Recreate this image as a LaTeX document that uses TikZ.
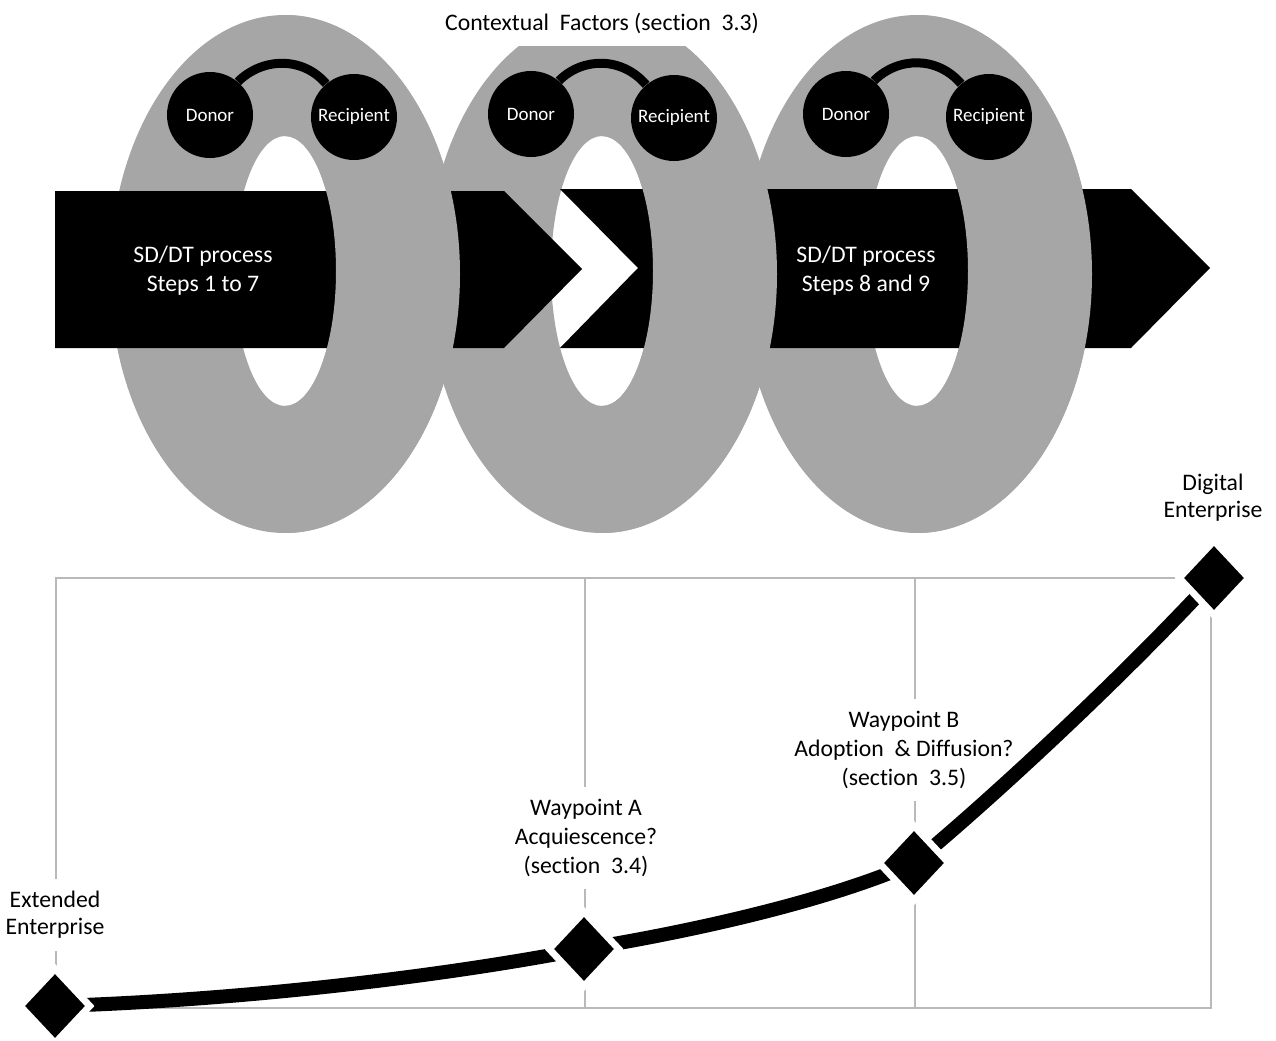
\documentclass[tikz,border=0pt]{standalone}
\usepackage{fontspec}
\setmainfont[Ligatures=NoCommon]{Carlito}
\usetikzlibrary{shapes.geometric}
\newlength\pxu
\setlength\pxu{0.02cm}
\definecolor{ringgray}{RGB}{166,166,166}
\definecolor{gridgray}{RGB}{185,185,185}
\newcommand\txtbig{\fontsize{13.5}{16.4}\selectfont}
\newcommand\txtbigtight{\fontsize{13.5}{15.3}\selectfont}
\newcommand\txtsmall{\fontsize{10.8}{13}\selectfont}

\begin{document}
\begin{tikzpicture}[x=0.02cm, y=-0.02cm,
  ring/.style={fill=ringgray, even odd rule},
  band/.style={fill=black},
  party/.style={circle, fill=black, minimum size=86\pxu, inner sep=0pt,
    text=white, font=\txtsmall},
  linkline/.style={line width=9\pxu, black},
  steptext/.style={text=white, font=\txtbig, align=center},
  headline/.style={fill=white, font=\txtbig, minimum height=46\pxu,
    inner xsep=4\pxu, inner ysep=0pt},
  gridrule/.style={draw=gridgray, line width=2.6\pxu},
  marklabel/.style={fill=white, font=\txtbig, align=center, inner sep=12\pxu},
  route/.style={line width=14\pxu, black},
  waymark/.style={diamond, fill=black, minimum width=60\pxu,
    minimum height=64\pxu, inner sep=0pt,
    preaction={draw=white, line width=14\pxu}},
]
\useasboundingbox (0,0) rectangle (1276,1041);

% ---- the three contextual rings (full donuts)
\foreach \cx in {285,602,917}{
  \fill[ring] (\cx,274) ellipse [x radius=175, y radius=259]
              (\cx,271) ellipse [x radius=51, y radius=135];
}

% ---- process arrows
\fill[band] (55,191) -- (504,191) -- (582,269) -- (504,348) -- (55,348) -- cycle;
\fill[band] (560,189) -- (1131,189) -- (1210,268) -- (1131,348) -- (560,348)
  -- (638,268) -- cycle;

% ---- right halves of the rings pass over the arrows
\foreach \cx in {285,602,917}{
  \begin{scope}
    \clip (\cx,0) rectangle (\cx+200,560);
    \fill[ring] (\cx,274) ellipse [x radius=175, y radius=259]
                (\cx,271) ellipse [x radius=51, y radius=135];
  \end{scope}
}

% ---- donor / recipient pairs
\node[party] (d1) at (210,115) {Donor};
\node[party] (r1) at (354,117) {Recipient};
\draw[linkline] (d1.50) .. controls ++(24,-24) and ++(-24,-28) .. (r1.130);

\node[party] (d2) at (531,114) {Donor};
\node[party] (r2) at (674,118) {Recipient};
\draw[linkline] (d2.50) .. controls ++(24,-24) and ++(-24,-28) .. (r2.130);

\node[party] (d3) at (846,114) {Donor};
\node[party] (r3) at (989,117) {Recipient};
\draw[linkline] (d3.50) .. controls ++(24,-24) and ++(-24,-28) .. (r3.130);

% ---- arrow texts
\node[steptext] (stepsA) at (203,271) {SD/DT process\\Steps 1 to 7};
\node[steptext] (stepsB) at (866,271) {SD/DT process\\Steps 8 and 9};

\node[headline] (factors) at (602,23) {Contextual~~Factors (section~~3.3)};

% ---- transition grid
\draw[gridrule] (56,578) rectangle (1211,1008);
\draw[gridrule] (585,578) -- (585,1008);
\draw[gridrule] (915,578) -- (915,1008);

% ---- waypoint labels
\node[marklabel, font=\txtbigtight] (extlab) at (55,915) {Extended\\Enterprise};
\node[marklabel] (walab) at (586,838) {Waypoint A\\Acquiescence?\\(section~~3.4)};
\node[marklabel] (wblab) at (904,750) {Waypoint B\\Adoption~~\& Diffusion?\\(section~~3.5)};
\node[marklabel, font=\txtbigtight] (delab) at (1213,498) {Digital\\Enterprise};

% ---- route through the waypoints
\coordinate (ext) at (55,1006);
\coordinate (wa) at (584,949);
\coordinate (wb) at (914,863);
\coordinate (de) at (1214,578);
\draw[route] (ext) .. controls (250,1000) and (450,975) .. (wa)
  .. controls (700,930) and (830,900) .. (wb)
  .. controls (990,800) and (1120,680) .. (de);

\node[waymark] (extmark) at (ext) {};
\node[waymark] (wamark) at (wa) {};
\node[waymark] (wbmark) at (wb) {};
\node[waymark] (demark) at (de) {};
\end{tikzpicture}
\end{document}
